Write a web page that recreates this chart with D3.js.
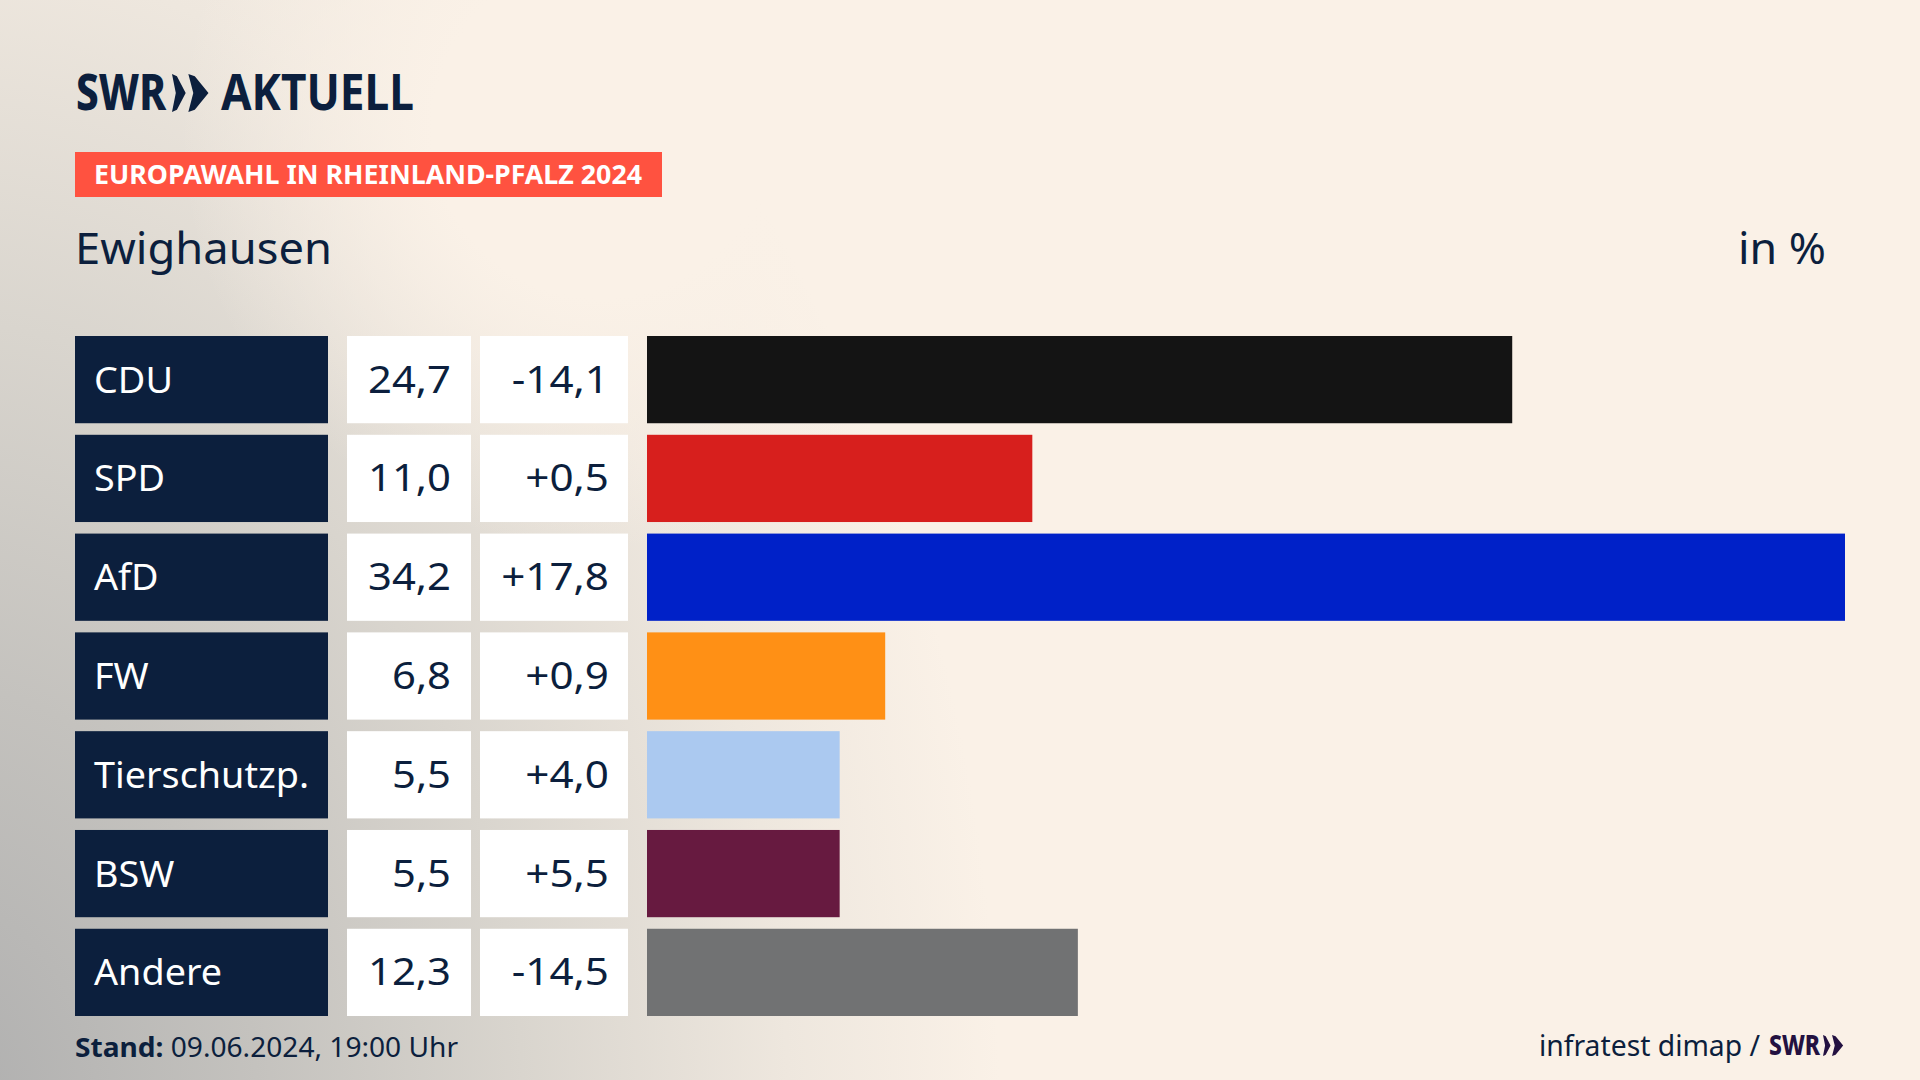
<!DOCTYPE html>
<html lang="de">
<head>
<meta charset="utf-8">
<title>Europawahl in Rheinland-Pfalz 2024 - Ewighausen</title>
<script src="https://cdn.jsdelivr.net/npm/d3@7"></script>
<style>
  html, body { margin: 0; padding: 0; background: #faf1e7; }
  svg { display: block; }
  text { font-family: "Noto Sans", sans-serif; fill: #0c1f3d; }
</style>
</head>
<body>
<svg id="main-svg" width="1920" height="1080"></svg>
<script>
// Data
var parties = ["CDU", "SPD", "AfD", "FW", "Tierschutzp.", "BSW", "Andere"];
var shares = [24.7, 11.0, 34.2, 6.8, 5.5, 5.5, 12.3];
var changes = [-14.1, 0.5, 17.8, 0.9, 4.0, 5.5, -14.5];
var partyColors = ["#141414", "#d71f1d", "#0021c8", "#ff9015", "#abc9f0", "#671a40", "#717273"];

var navy = "#0c1f3d";
var de = d3.formatLocale({decimal: ",", thousands: ".", grouping: [3], currency: ["", " €"], minus: "-"});
var fmtShare = de.format(".1f");
var fmtChange = de.format("+.1f");

var canvas = d3.select("#main-svg");
var defs = canvas.append("defs");

// Background: cream with a grey haze coming out of the lower left corner
var haze = defs.append("radialGradient").attr("id", "haze")
  .attr("gradientUnits", "userSpaceOnUse")
  .attr("cx", 0).attr("cy", 0).attr("r", 1)
  .attr("gradientTransform", "translate(-60,1120) scale(1060,1450)");
[[0, "#aeaeae"], [0.3, "#c4c2be"], [0.55, "#d9d5ce"], [0.8, "#eee7de"], [1, "#faf1e7"]].forEach((s) => {
  haze.append("stop").attr("offset", s[0]).attr("stop-color", s[1]);
});
var glow = defs.append("radialGradient").attr("id", "glow")
  .attr("gradientUnits", "userSpaceOnUse")
  .attr("cx", 600).attr("cy", 130).attr("r", 420);
glow.append("stop").attr("offset", 0.4).attr("stop-color", "#faf1e7");
glow.append("stop").attr("offset", 1).attr("stop-color", "#faf1e7").attr("stop-opacity", 0);

canvas.append("rect").attr("width", 1920).attr("height", 1080).attr("fill", "url(#haze)");
canvas.append("rect").attr("width", 1920).attr("height", 1080).attr("fill", "url(#glow)");

// Scales
var y = d3.scaleBand().domain(parties).range([336, 1016]).paddingInner(0.117);
var x = d3.scaleLinear().domain([0, d3.max(shares)]).range([647, 1845]);

// Text with a fixed drawn width, the house font is narrower than ours
function label(parent, str, xPos, yPos, size, width, opts) {
  opts = opts || {};
  var t = parent.append("text")
    .attr("x", xPos).attr("y", yPos)
    .attr("font-size", size)
    .attr("font-weight", opts.weight || 400)
    .style("fill", opts.fill || navy)
    .text(str);
  if (width) t.attr("textLength", width).attr("lengthAdjust", "spacingAndGlyphs");
  return t;
}

// Widen a selection of texts by a factor, keeps the anchor
function stretch(sel, factor) {
  sel.attr("lengthAdjust", "spacingAndGlyphs")
    .attr("textLength", function() { return this.getComputedTextLength() * factor; });
}

// The two arrows of the logo, the first one is a bit narrower
function chevrons(parent, x0, top, h, color) {
  var mid = top + h / 2, cut = h * 0.06;
  [[0, 0.36, 0.1, 0.13], [0.43, 0.53, 0.13, 0.17]].forEach((c) => {
    var l = x0 + c[0] * h, tip = l + c[1] * h, notch = l + c[2] * h, bar = l + c[3] * h;
    parent.append("path")
      .attr("d", `M${l},${top}L${bar},${top + cut}L${tip},${mid}L${bar},${top + h - cut}L${l},${top + h}L${notch},${mid}Z`)
      .attr("fill", color);
  });
}

// Header
var header = canvas.append("g").attr("id", "header");
label(header, "SWR", 76, 110, 50, 90, {weight: 800});
chevrons(header, 172, 74, 38, navy);
label(header, "AKTUELL", 221, 110, 50, 193, {weight: 700});

header.append("rect").attr("x", 75).attr("y", 152).attr("width", 587).attr("height", 45).attr("fill", "#ff5240");
label(header, "EUROPAWAHL IN RHEINLAND-PFALZ 2024", 94, 184, 27, 548, {weight: 700, fill: "#fff"});

label(header, "Ewighausen", 75, 264, 44, 257);
label(header, "in %", 1738, 264, 44, 88);

// Rows
var rows = canvas.append("g").attr("id", "rows").selectAll("g")
  .data(parties).enter().append("g")
  .attr("transform", (d) => `translate(0,${y(d)})`);

rows.append("rect").attr("x", 75).attr("width", 253).attr("height", y.bandwidth()).attr("fill", navy);
rows.append("rect").attr("x", 347).attr("width", 124).attr("height", y.bandwidth()).attr("fill", "#fff");
rows.append("rect").attr("x", 480).attr("width", 148).attr("height", y.bandwidth()).attr("fill", "#fff");
rows.append("rect")
  .attr("x", x(0))
  .attr("width", (d, i) => x(shares[i]) - x(0))
  .attr("height", y.bandwidth())
  .attr("fill", (d, i) => partyColors[i]);

var baseline = y.bandwidth() / 2 + 13;
stretch(rows.append("text").attr("x", 94).attr("y", baseline).attr("font-size", 37)
  .style("fill", "#fff").text((d) => d), 1.02);
stretch(rows.append("text").attr("x", 451).attr("y", baseline).attr("font-size", 38)
  .attr("text-anchor", "end").text((d, i) => fmtShare(shares[i])), 1.1);
stretch(rows.append("text").attr("x", 609).attr("y", baseline).attr("font-size", 38)
  .attr("text-anchor", "end").text((d, i) => fmtChange(changes[i])), 1.11);

// Footer
var footer = canvas.append("g").attr("id", "footer");
var stand = label(footer, "", 75, 1057, 27, 0);
stand.append("tspan").attr("font-weight", 700).text("Stand:");
stand.append("tspan").text(" 09.06.2024, 19:00 Uhr");
stand.attr("textLength", 383).attr("lengthAdjust", "spacingAndGlyphs");

label(footer, "infratest dimap /", 1539, 1056, 29, 221);
label(footer, "SWR", 1769, 1055, 28, 51, {weight: 800, fill: "#231141"});
chevrons(footer, 1823, 1035, 21, "#231141");
</script>
</body>
</html>
